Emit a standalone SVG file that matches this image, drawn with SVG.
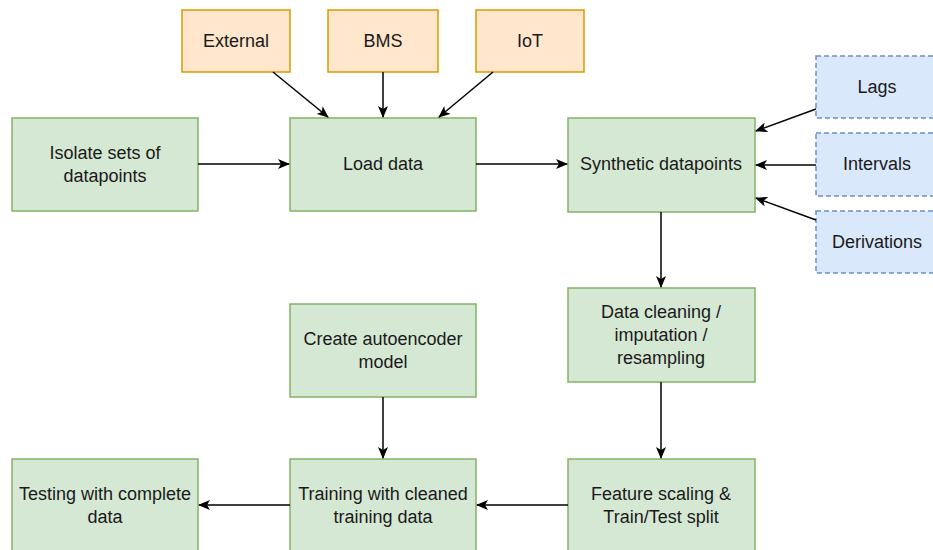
<svg xmlns="http://www.w3.org/2000/svg" width="933" height="550" viewBox="0 0 933 550">
  <style>
    .proc { fill: #d5e8d4; stroke: #82b366; stroke-width: 1.5; }
    .src { fill: #ffe6cc; stroke: #d79b00; stroke-width: 1.5; }
    .feat { fill: #dae8fc; stroke: #6c8ebf; stroke-width: 1.5; stroke-dasharray: 5 3; }
    text { font-family: "Liberation Sans", Arial, Helvetica, sans-serif; font-size: 18px; fill: #1a1a1a; text-anchor: middle; dominant-baseline: central; }
    .edge { stroke: #000; stroke-width: 1.5; fill: none; marker-end: url(#arrow); }
  </style>
  <defs>
    <marker id="arrow" viewBox="0 0 12 10" refX="11" refY="5" markerWidth="12" markerHeight="10" markerUnits="userSpaceOnUse" orient="auto">
      <path d="M0,0 L12,5 L0,10 L3,5 z" fill="#000"/>
    </marker>
  </defs>
  <rect width="933" height="550" fill="#ffffff"/>

  <!-- data sources -->
  <g id="external">
    <rect class="src" x="182" y="10" width="108" height="62"/>
    <text x="236" y="41">External</text>
  </g>
  <g id="bms">
    <rect class="src" x="328" y="10" width="110" height="62"/>
    <text x="383" y="41">BMS</text>
  </g>
  <g id="iot">
    <rect class="src" x="476" y="10" width="108" height="62"/>
    <text x="530" y="41">IoT</text>
  </g>

  <!-- processing steps -->
  <g id="isolate">
    <rect class="proc" x="12" y="118" width="186" height="93"/>
    <text x="105" y="153">Isolate sets of</text>
    <text x="105" y="176">datapoints</text>
  </g>
  <g id="load">
    <rect class="proc" x="290" y="118" width="186" height="93"/>
    <text x="383" y="164">Load data</text>
  </g>
  <g id="synthetic">
    <rect class="proc" x="568" y="118" width="187" height="94"/>
    <text x="661" y="164">Synthetic datapoints</text>
  </g>

  <!-- synthetic feature kinds -->
  <g id="lags">
    <rect class="feat" x="816" y="56" width="124" height="62"/>
    <text x="877" y="87">Lags</text>
  </g>
  <g id="intervals">
    <rect class="feat" x="816" y="133" width="124" height="63"/>
    <text x="877" y="164">Intervals</text>
  </g>
  <g id="derivations">
    <rect class="feat" x="816" y="211" width="124" height="62"/>
    <text x="877" y="242">Derivations</text>
  </g>

  <g id="cleaning">
    <rect class="proc" x="568" y="288" width="187" height="94"/>
    <text x="661" y="312">Data cleaning /</text>
    <text x="661" y="335">imputation /</text>
    <text x="661" y="358">resampling</text>
  </g>
  <g id="autoencoder">
    <rect class="proc" x="290" y="304" width="186" height="93"/>
    <text x="383" y="339">Create autoencoder</text>
    <text x="383" y="362">model</text>
  </g>
  <g id="scaling">
    <rect class="proc" x="568" y="459" width="187" height="94"/>
    <text x="661" y="494">Feature scaling &amp;</text>
    <text x="661" y="517">Train/Test split</text>
  </g>
  <g id="training">
    <rect class="proc" x="290" y="459" width="186" height="94"/>
    <text x="383" y="494">Training with cleaned</text>
    <text x="383" y="517">training data</text>
  </g>
  <g id="testing">
    <rect class="proc" x="12" y="459" width="186" height="94"/>
    <text x="105" y="494">Testing with complete</text>
    <text x="105" y="517">data</text>
  </g>

  <!-- connectors -->
  <g id="edges">
    <line class="edge" x1="273" y1="72" x2="328" y2="117"/>
    <line class="edge" x1="383" y1="72" x2="383" y2="117"/>
    <line class="edge" x1="493" y1="72" x2="439" y2="117"/>
    <line class="edge" x1="198" y1="164" x2="289" y2="164"/>
    <line class="edge" x1="476" y1="164" x2="567" y2="164"/>
    <line class="edge" x1="816" y1="109" x2="756" y2="131"/>
    <line class="edge" x1="816" y1="165" x2="756" y2="165"/>
    <line class="edge" x1="816" y1="220" x2="756" y2="198"/>
    <line class="edge" x1="661" y1="212" x2="661" y2="287"/>
    <line class="edge" x1="661" y1="382" x2="661" y2="458"/>
    <line class="edge" x1="383" y1="397" x2="383" y2="458"/>
    <line class="edge" x1="568" y1="505" x2="477" y2="505"/>
    <line class="edge" x1="290" y1="505" x2="199" y2="505"/>
  </g>
</svg>
